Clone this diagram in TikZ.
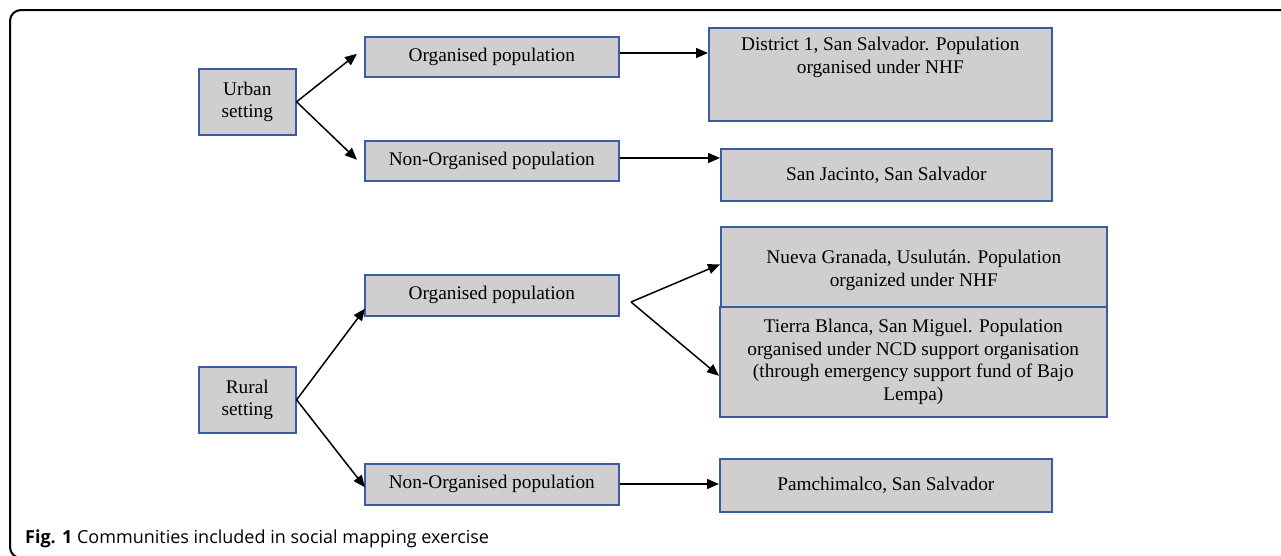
\documentclass[tikz,border=0pt]{standalone}
\usepackage{fontspec}
\setmainfont{Liberation Serif}
\newfontfamily\capfont{Open Sans}
\usetikzlibrary{arrows.meta,calc}
\definecolor{boxfill}{RGB}{208,206,206}
\definecolor{boxline}{RGB}{58,92,160}
\begin{document}
\begin{tikzpicture}[x=1pt,y=-1pt,
  box/.style={draw=boxline,fill=boxfill,line width=1.6pt,inner sep=0pt,anchor=north west},
  txt/.style={font=\fontsize{19.3}{22.5}\selectfont,align=center,inner sep=0pt},
  arr/.style={line width=1.5pt,-{Triangle[length=12pt,width=10pt]}}]
\useasboundingbox (0,0) rectangle (1281,555);
% frame
\draw[line width=2pt,rounded corners=11pt] (1290,558) -- (10,558) -- (10,10) -- (1290,10);
% urban
\node[box,minimum width=97pt,minimum height=66pt] (urban) at (198,68) {};
\node[txt] at (urban.center) {Urban\\setting};
\node[box,minimum width=254pt,minimum height=40pt] (uorg) at (364,36) {};
\node[txt] at (uorg.center) {Organised population};
\node[box,minimum width=254pt,minimum height=40pt] (unon) at (364,140) {};
\node[txt] at (unon.center) {Non-Organised population};
\node[box,minimum width=343pt,minimum height=93pt] (d1) at (708,27) {};
\node[txt,anchor=north] at ($(d1.north)+(0,10)$) {District 1, San Salvador. Population\\organised under NHF};
\node[box,minimum width=331pt,minimum height=52pt] (sj) at (720,148) {};
\node[txt] at (sj.center) {San Jacinto, San Salvador};
% rural
\node[box,minimum width=97pt,minimum height=66pt] (rural) at (198,366) {};
\node[txt] at (rural.center) {Rural\\setting};
\node[box,minimum width=254pt,minimum height=41pt] (rorg) at (364,274) {};
\node[txt] at (rorg.center) {Organised population};
\node[box,minimum width=254pt,minimum height=41pt] (rnon) at (364,463) {};
\node[txt] at (rnon.center) {Non-Organised population};
\node[box,minimum width=386pt,minimum height=81pt] (ng) at (720,226) {};
\node[txt] at ($(ng.center)+(0,3)$) {Nueva Granada, Usulután. Population\\organized under NHF};
\node[box,minimum width=387pt,minimum height=110pt] (tb) at (719,306) {};
\node[txt] at (tb.center) {Tierra Blanca, San Miguel. Population\\organised under NCD support organisation\\(through emergency support fund of Bajo\\Lempa)};
\node[box,minimum width=332pt,minimum height=53pt] (pam) at (719,458) {};
\node[txt] at (pam.center) {Pamchimalco, San Salvador};
% connectors
\draw[arr] (urban.east) -- ($(uorg.west)+(-7,-3)$);
\draw[arr] (urban.east) -- ($(unon.west)+(-7,-1)$);
\draw[arr] (uorg.east |- 0,53) -- (d1.west |- 0,53);
\draw[arr] (unon.east |- 0,158) -- (sj.west |- 0,158);
\draw[arr] (rural.east) -- ($(rorg.south west)+(1,-8)$);
\draw[arr] (rural.east) -- ($(rnon.west)+(1,3)$);
\coordinate (fork) at (631,302);
\draw[arr] (fork) -- ($(ng.west)+(0,-3)$);
\draw[arr] (fork) -- ($(tb.west)+(0,14)$);
\draw[arr] (rnon.east |- 0,484) -- (pam.west |- 0,484);
% caption
\node[anchor=base west,inner sep=0pt,font=\capfont\fontsize{18}{21}\selectfont] (cap) at (25,543) {\textbf{Fig. 1} Communities included in social mapping exercise};
\end{tikzpicture}
\end{document}
